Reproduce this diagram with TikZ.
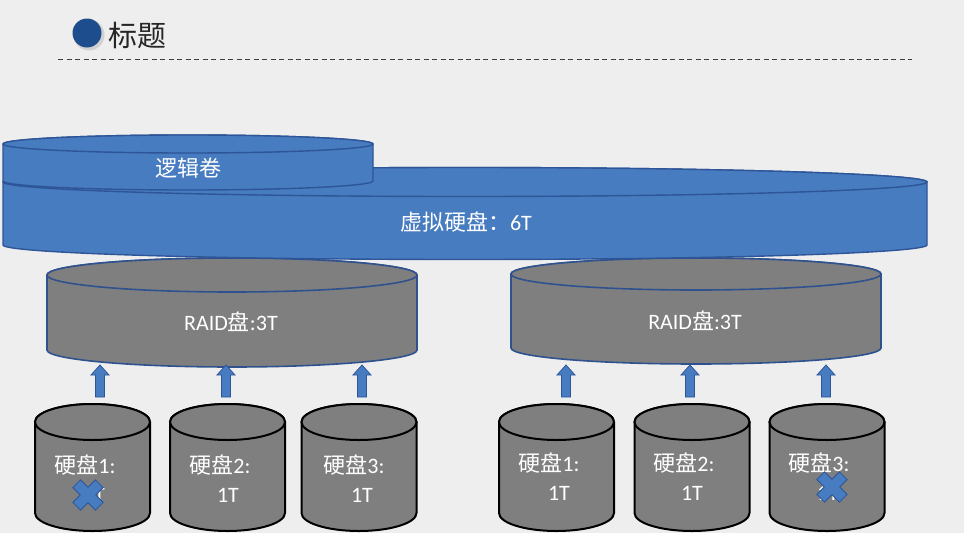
\documentclass[tikz,border=0pt]{standalone}
\usepackage{fontspec}
\setmainfont{Carlito}
\newfontfamily\cjk{Noto Sans CJK SC}
\definecolor{bgc}{HTML}{EEEEEE}
\definecolor{volblue}{HTML}{477CC0}
\definecolor{voledge}{HTML}{2E5597}
\definecolor{diskgray}{HTML}{7F7F7F}
\definecolor{raidedge}{HTML}{2F528F}
\definecolor{titleblue}{HTML}{1D4D8C}
\newcommand{\cylshape}[6]{%
  \path[#1] (#2-#5,#3) -- (#2-#5,#4) arc[start angle=180,end angle=0,x radius=#5,y radius=#6]
    -- (#2+#5,#3) arc[start angle=0,end angle=-180,x radius=#5,y radius=#6] -- cycle;
  \path[#1] (#2,#3) ellipse[x radius=#5,y radius=#6];
}
\newcommand{\uparrowshape}[4]{% style, x, ybottom, ytip
  \path[#1] (#2-4.5,#3) -- (#2-4.5,#4+10) -- (#2-9,#4+10) -- (#2,#4) -- (#2+9,#4+10)
    -- (#2+4.5,#4+10) -- (#2+4.5,#3) -- cycle;
}
\newcommand{\crossmark}[2]{%
  \begin{scope}[shift={(#1,#2)},rotate=45]
    \path[xmarkst] (-5.5,-16) -- (5.5,-16) -- (5.5,-5.5) -- (16,-5.5) -- (16,5.5) -- (5.5,5.5)
      -- (5.5,16) -- (-5.5,16) -- (-5.5,5.5) -- (-16,5.5) -- (-16,-5.5) -- (-5.5,-5.5) -- cycle;
  \end{scope}
}
\begin{document}
\begin{tikzpicture}[x=1pt,y=-1pt,
  vol/.style={fill=volblue,draw=voledge,line width=1.4pt},
  raid/.style={fill=diskgray,draw=raidedge,line width=1.6pt},
  hdd/.style={fill=diskgray,draw=black,line width=2pt},
  upar/.style={fill=volblue,draw=voledge,line width=0.8pt},
  xmarkst/.style={fill=volblue,draw=voledge,line width=0.8pt},
  lbl/.style={text=white,font=\fontsize{22}{26}\selectfont,inner sep=0pt},
  ]
\useasboundingbox (0,0) rectangle (964,533);
\fill[bgc] (0,0) rectangle (964,533);
% title
\fill[black,opacity=0.12] (89,35) circle[radius=15.5];
\fill[titleblue] (87,33) circle[radius=14.5];
\node[anchor=west,inner sep=0pt,font=\cjk\fontsize{29}{33}\selectfont,text=black!85] (title) at (108,35) {标题};
\coordinate (dl) at (58,59);
\coordinate (dr) at (912,59);
\draw[black!75,line width=1pt,dash pattern=on 5pt off 3.5pt] (dl) -- (dr);
% RAID disks
\cylshape{raid}{232}{275}{350}{185}{17}
\cylshape{raid}{696}{274}{348}{185}{16}
% virtual disk
\cylshape{vol}{465}{182}{245}{462}{14.5}
% logical volume
\cylshape{vol}{188}{144}{181}{185}{9}
% labels
\node[lbl,font=\cjk\fontsize{22}{26}\selectfont] (lv) at (188,168) {逻辑卷};
\node[lbl] (vd) at (466,222) {{\cjk 虚拟硬盘：}6T};
\node[lbl] (r1) at (231,322) {RAID{\cjk 盘}:3T};
\node[lbl] (r2) at (695,321) {RAID{\cjk 盘}:3T};
% arrows
\foreach \ax in {100,226,362,566,690,826}{\uparrowshape{upar}{\ax}{397}{365}}
% hard disks
\foreach \cx/\nm in {92.5/1,227.5/2,359/3,556.5/1,692/2,827/3}{%
  \cylshape{hdd}{\cx}{422}{513}{57.5}{18}
}
\node[lbl] (a1) at (85,465) {{\cjk 硬盘}1:};
\node[lbl] (a1t) at (94,495) {1T};
\node[lbl] (a2) at (220,465) {{\cjk 硬盘}2:};
\node[lbl] (a2t) at (228,495) {1T};
\node[lbl] (a3) at (354,465) {{\cjk 硬盘}3:};
\node[lbl] (a3t) at (362,495) {1T};
\node[lbl] (b1) at (549,463) {{\cjk 硬盘}1:};
\node[lbl] (b1t) at (559,493) {1T};
\node[lbl] (b2) at (684,463) {{\cjk 硬盘}2:};
\node[lbl] (b2t) at (692,493) {1T};
\node[lbl] (b3) at (819,463) {{\cjk 硬盘}3:};
\node[lbl] (b3t) at (828,493) {1T};
\crossmark{88}{495}
\crossmark{832}{487}
\end{tikzpicture}
\end{document}
